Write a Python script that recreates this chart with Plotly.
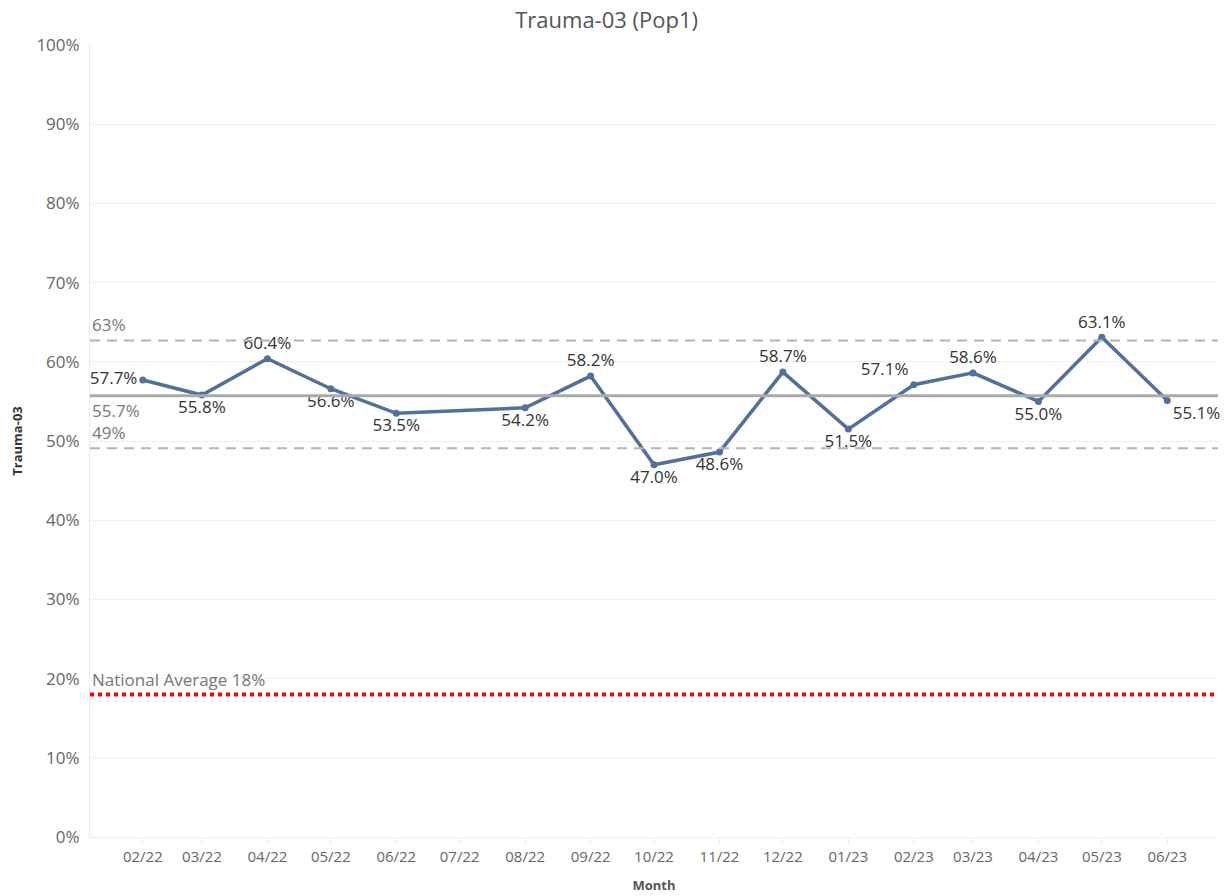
import plotly.graph_objects as go

# ---- data ----
months = ["2022-02-01", "2022-03-01", "2022-04-01", "2022-05-01", "2022-06-01",
          "2022-08-01", "2022-09-01", "2022-10-01", "2022-11-01", "2022-12-01",
          "2023-01-01", "2023-02-01", "2023-03-01", "2023-04-01", "2023-05-01",
          "2023-06-01"]
values = [57.7, 55.8, 60.4, 56.6, 53.5, 54.2, 58.2, 47.0, 48.6, 58.7,
          51.5, 57.1, 58.6, 55.0, 63.1, 55.1]
tick_months = ["2022-02-01", "2022-03-01", "2022-04-01", "2022-05-01", "2022-06-01",
               "2022-07-01", "2022-08-01", "2022-09-01", "2022-10-01", "2022-11-01",
               "2022-12-01", "2023-01-01", "2023-02-01", "2023-03-01", "2023-04-01",
               "2023-05-01", "2023-06-01"]
tick_labels = ["02/22", "03/22", "04/22", "05/22", "06/22", "07/22", "08/22", "09/22",
               "10/22", "11/22", "12/22", "01/23", "02/23", "03/23", "04/23", "05/23",
               "06/23"]
upper_value, upper_label = 62.7, "63%"
mean_value, mean_label = 55.7, "55.7%"
lower_value, lower_label = 49.1, "49%"
national_value, national_label = 18.0, "National Average 18%"
y_ticks = [0, 10, 20, 30, 40, 50, 60, 70, 80, 90, 100]

# ---- style ----
label_pos = ["middle left", "bottom center", "top center", "bottom center",
             "bottom center", "bottom center", "top center", "bottom center",
             "bottom center", "top center", "bottom center", "top left",
             "top center", "bottom center", "top center", "bottom right"]
FONT = "'Open Sans', sans-serif"
LINE_BLUE = "#50719c"

fig = go.Figure()
fig.add_trace(go.Scatter(
    x=months, y=values, mode="lines+markers+text",
    line=dict(color=LINE_BLUE, width=3.5),
    marker=dict(color=LINE_BLUE, size=7),
    text=[f"{v:.1f}%" for v in values],
    textposition=label_pos,
    textfont=dict(family=FONT, size=17, color="#333333"),
    cliponaxis=False, showlegend=False, hoverinfo="x+y",
))

shapes = []
for val, dash, color, width in [
    (upper_value, "10px,7px", "#b4b4b4", 2),
    (mean_value, "solid", "#aaaaaa", 3),
    (lower_value, "10px,7px", "#b4b4b4", 2),
    (national_value, "4px,4px", "#ff0000", 4),
]:
    shapes.append(dict(type="line", xref="paper", x0=0, x1=1, yref="y", y0=val, y1=val,
                       line=dict(color=color, width=width, dash=dash), layer="above"))

annotations = []
for val, text, yanchor, yshift in [
    (upper_value, upper_label, "bottom", 2),
    (mean_value, mean_label, "top", -1),
    (lower_value, lower_label, "bottom", 2),
    (national_value, national_label, "bottom", 1),
]:
    annotations.append(dict(xref="paper", x=0, xanchor="left", xshift=0,
                            yref="y", y=val, yanchor=yanchor, yshift=yshift,
                            text=text, showarrow=False,
                            font=dict(family=FONT, size=17, color="#777777")))

fig.update_layout(
    width=1228, height=896,
    margin=dict(l=90, r=10, t=45, b=59, autoexpand=False),
    paper_bgcolor="white", plot_bgcolor="white",
    title=dict(text="Trauma-03 (Pop1)", xref="container", x=0.494, xanchor="center",
               yref="container", y=0.977, yanchor="middle",
               font=dict(family=FONT, size=22, color="#555555")),
    shapes=shapes, annotations=annotations,
    font=dict(family=FONT),
)
fig.update_xaxes(
    type="date", range=["2022-01-07", "2023-06-25"],
    tickvals=tick_months, ticktext=tick_labels,
    tickfont=dict(family=FONT, size=15, color="#666666"),
    showgrid=False, zeroline=False, automargin=False,
    showline=True, linecolor="#ececec", linewidth=1,
    ticks="outside", ticklen=6, tickcolor="#ececec",
    title=dict(text="<b>Month</b>", font=dict(family=FONT, size=13, color="#555555"), standoff=15),
)
fig.update_yaxes(
    range=[0, 100], tickvals=y_ticks, ticktext=[f"{t}%" for t in y_ticks],
    tickfont=dict(family=FONT, size=17, color="#666666"),
    showgrid=True, gridcolor="#f0f0f0", gridwidth=1, zeroline=False, automargin=False,
    showline=True, linecolor="#ececec", linewidth=1, ticks="", ticklabelstandoff=6,
    title=dict(text="<b>Trauma-03</b>", font=dict(family=FONT, size=13, color="#333333"), standoff=10),
)

fig.write_html("out.html", config={"displayModeBar": False},
               post_script="document.body.style.margin='0';")
